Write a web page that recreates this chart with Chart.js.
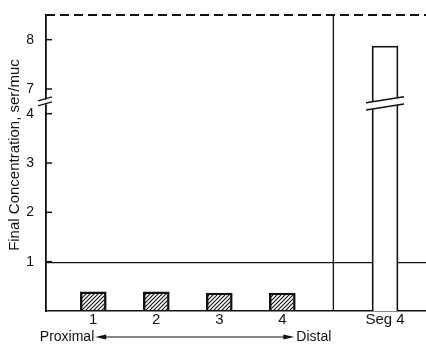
<!DOCTYPE html>
<html>
<head>
<meta charset="utf-8">
<script src="https://cdn.jsdelivr.net/npm/chart.js@4.4.1/dist/chart.umd.min.js"></script>
<style>
body{margin:0;background:#fff}
#wrap{width:426px;height:346px}
</style>
</head>
<body>
<div id="wrap"><canvas id="grafico" width="426" height="346"></canvas></div>
<script>
// segment positions on the x axis and their labels
const segPos = [1, 2, 3, 4, 5.63];
const segLabels = ['1', '2', '3', '4', 'Seg 4'];
// final concentration, ser/muc
const concValues = [0.39, 0.39, 0.365, 0.365, 7.87];
const refLevel = 0.98;
const yTickValues = [1, 2, 3, 4, 7, 8];
const axisTitle = 'Final Concentration, ser/muc';
const dirLabels = ['Proximal', 'Distal'];
const xRange = [0.25, 6.28];
const dividerAt = 4.81;

// broken y axis: jumps from 4 to 7
const BREAK_LO = 4, BREAK_HI = 7, BREAK_GAP = 0.5;
function toAxis(v){ return v <= BREAK_LO ? v : BREAK_LO + BREAK_GAP + (v - BREAK_HI); }

const FONT = '"Liberation Sans", Arial, sans-serif';
Chart.defaults.font.family = FONT;
Chart.defaults.color = '#111';

// hatch fill for the small bars
function hatch(){
    const c = document.createElement('canvas');
    c.width = 4; c.height = 4;
    const g = c.getContext('2d');
    g.strokeStyle = '#111';
    g.lineWidth = 1.1;
    g.beginPath();
    g.moveTo(0, 4); g.lineTo(4, 0);
    g.moveTo(-1, 1); g.lineTo(1, -1);
    g.moveTo(3, 5); g.lineTo(5, 3);
    g.stroke();
    return g.createPattern(c, 'repeat');
}
const pat = hatch();

const extras = {
    id: 'extras',
    afterDraw(chart){
        const {ctx, chartArea: a, scales: {x, y}} = chart;
        ctx.save();
        ctx.strokeStyle = '#111';
        ctx.fillStyle = '#111';

        // dashed line on top
        ctx.lineWidth = 2;
        ctx.setLineDash([9, 5]);
        ctx.beginPath(); ctx.moveTo(a.left, a.top); ctx.lineTo(a.right, a.top); ctx.stroke();
        ctx.setLineDash([]);

        // divider before Seg 4
        const dx = x.getPixelForValue(dividerAt);
        ctx.lineWidth = 1.3;
        ctx.beginPath(); ctx.moveTo(dx, a.top); ctx.lineTo(dx, a.bottom); ctx.stroke();

        // inward ticks on y axis
        ctx.lineWidth = 1.5;
        y.ticks.forEach(t => {
            const py = y.getPixelForValue(t.value);
            ctx.beginPath(); ctx.moveTo(a.left, py); ctx.lineTo(a.left + 6, py); ctx.stroke();
        });

        // break marks on y axis
        const by = y.getPixelForValue(BREAK_LO + BREAK_GAP / 2);
        ctx.fillStyle = '#fff';
        ctx.beginPath();
        ctx.moveTo(a.left - 3, by - 2.5 + 2); ctx.lineTo(a.left + 3, by - 2.5 - 1);
        ctx.lineTo(a.left + 3, by + 2.5 - 1); ctx.lineTo(a.left - 3, by + 2.5 + 2);
        ctx.closePath(); ctx.fill();
        ctx.lineWidth = 1.4;
        [-2.5, 2.5].forEach(o => {
            ctx.beginPath();
            ctx.moveTo(a.left - 8, by + o + 2); ctx.lineTo(a.left + 6, by + o - 2);
            ctx.stroke();
        });

        // break marks on the Seg 4 bar
        const cx = x.getPixelForValue(segPos[4]);
        const bb = y.getPixelForValue(4.21);
        ctx.beginPath();
        ctx.moveTo(cx - 16, bb - 3.6 + 2.6); ctx.lineTo(cx + 16, bb - 3.6 - 2.6);
        ctx.lineTo(cx + 16, bb + 3.6 - 2.6); ctx.lineTo(cx - 16, bb + 3.6 + 2.6);
        ctx.closePath(); ctx.fill();
        ctx.lineWidth = 1.5;
        [-3.6, 3.6].forEach(o => {
            ctx.beginPath();
            ctx.moveTo(cx - 19, bb + o + 3); ctx.lineTo(cx + 19, bb + o - 3);
            ctx.stroke();
        });

        // y axis title
        ctx.fillStyle = '#111';
        ctx.font = '15px ' + FONT;
        ctx.save();
        ctx.translate(15, 155);
        ctx.rotate(-Math.PI / 2);
        ctx.textAlign = 'center';
        ctx.textBaseline = 'middle';
        ctx.fillText(axisTitle, 0, 0);
        ctx.restore();

        // Proximal <---> Distal
        const ay = 337;
        const x0 = x.getPixelForValue(segPos[0]) + 2;
        const x1 = x.getPixelForValue(segPos[3]) + 12;
        ctx.font = '14px ' + FONT;
        ctx.textBaseline = 'middle';
        ctx.textAlign = 'right';
        ctx.fillText(dirLabels[0], x0 - 1, ay);
        ctx.textAlign = 'left';
        ctx.fillText(dirLabels[1], x1 + 2, ay);
        ctx.lineWidth = 1.2;
        ctx.beginPath(); ctx.moveTo(x0 + 8, ay); ctx.lineTo(x1 - 8, ay); ctx.stroke();
        ctx.beginPath();
        ctx.moveTo(x0, ay); ctx.lineTo(x0 + 11, ay - 2.5); ctx.lineTo(x0 + 11, ay + 2.5); ctx.closePath(); ctx.fill();
        ctx.beginPath();
        ctx.moveTo(x1, ay); ctx.lineTo(x1 - 11, ay - 2.5); ctx.lineTo(x1 - 11, ay + 2.5); ctx.closePath(); ctx.fill();

        ctx.restore();
    }
};

const ctx = document.getElementById('grafico').getContext('2d');
new Chart(ctx, {
    type: 'bar',
    data: {
        datasets: [{
            type: 'bar',
            data: segPos.map((p, i) => ({x: p, y: toAxis(concValues[i])})),
            backgroundColor: segPos.map((p, i) => i < 4 ? pat : '#fff'),
            borderColor: '#111',
            borderWidth: 1.8,
            barThickness: 26,
            order: 1
        }, {
            type: 'line',
            data: [{x: xRange[0], y: refLevel}, {x: xRange[1], y: refLevel}],
            borderColor: '#111',
            borderWidth: 1.3,
            pointRadius: 0,
            order: 2
        }]
    },
    options: {
        responsive: false,
        animation: false,
        layout: {padding: {top: 15, right: 0, left: 0, bottom: 0}},
        plugins: {legend: {display: false}, tooltip: {enabled: false}},
        scales: {
            x: {
                type: 'linear',
                offset: false,
                min: xRange[0],
                max: xRange[1],
                grid: {display: false},
                border: {display: true, color: '#111', width: 1.6},
                afterBuildTicks: s => { s.ticks = segPos.map(v => ({value: v})); },
                afterFit: s => { s.height = 35; },
                ticks: {
                    autoSkip: false,
                    maxRotation: 0,
                    padding: -8,
                    font: {size: 15},
                    callback: (v, i) => segLabels[i]
                }
            },
            y: {
                min: 0,
                max: 6,
                grid: {display: false},
                border: {display: true, color: '#111', width: 1.8},
                afterBuildTicks: s => { s.ticks = yTickValues.map(v => ({value: toAxis(v)})); },
                afterFit: s => { s.width = 46; },
                ticks: {
                    padding: 4,
                    font: {size: 14},
                    callback: (v, i) => String(yTickValues[i])
                }
            }
        }
    },
    plugins: [extras]
});
</script>
</body>
</html>
